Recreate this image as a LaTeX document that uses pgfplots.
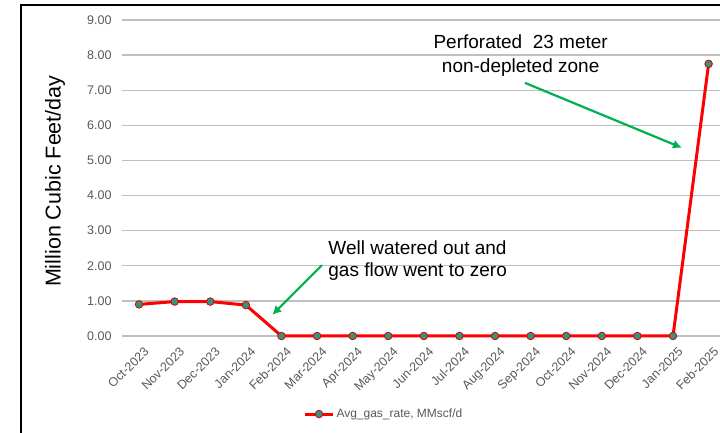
\documentclass[border=0pt]{standalone}
\usepackage{pgfplots}
\pgfplotsset{compat=1.18}
\usetikzlibrary{arrows.meta}
\usepackage{fontspec}
\setmainfont{Liberation Sans}
\definecolor{tickgray}{RGB}{89,89,89}
\definecolor{gridgray}{RGB}{191,191,191}
\definecolor{teal1}{RGB}{46,150,128}
\definecolor{arrowgreen}{RGB}{0,176,80}
\begin{document}
\begin{tikzpicture}[x=1pt,y=1pt]
\useasboundingbox (0,0) rectangle (720,433);
\fill[white] (0,0) rectangle (720,433);
\begin{axis}[
  at={(122pt,97pt)}, anchor=south west,
  scale only axis, width=598pt, height=316pt,
  xmin=-0.48, xmax=16.32, ymin=0, ymax=9,
  axis line style={draw=none},
  major tick style={draw=none},
  ymajorgrids, grid style={gridgray, line width=1.3pt},
  ytick={0,1,...,9},
  yticklabel style={/pgf/number format/fixed, /pgf/number format/fixed zerofill, /pgf/number format/precision=2, font=\fontsize{12.5}{14}\selectfont, color=tickgray, xshift=-7pt},
  /pgf/number format/assume math mode=true,
  xtick={0,...,16},
  xticklabels={Oct-2023,Nov-2023,Dec-2023,Jan-2024,Feb-2024,Mar-2024,Apr-2024,May-2024,Jun-2024,Jul-2024,Aug-2024,Sep-2024,Oct-2024,Nov-2024,Dec-2024,Jan-2025,Feb-2025},
  xticklabel style={rotate=45, anchor=north east, font=\fontsize{12.5}{14}\selectfont, color=tickgray, inner sep=1pt, xshift=-3pt, yshift=-9pt},
  ylabel={Million Cubic Feet/day},
  ylabel style={at={(axis description cs:-0.112,0.49)}, anchor=center, font=\fontsize{21.5}{24}\selectfont},
  legend style={at={(axis description cs:0.438,-0.247)}, anchor=center, draw=none, fill=none, font=\fontsize{12}{14}\selectfont, text=tickgray},
  legend image code/.code={\draw[mark repeat=2,mark phase=2,#1] plot coordinates {(0pt,0pt) (14pt,0pt) (28pt,0pt)};},
  clip=false,
]
\addplot[red, line width=3pt, mark=*, mark size=3.8pt, mark options={fill=teal1, draw=red!85!black, line width=0.8pt}]
  coordinates {(0,0.90) (1,0.98) (2,0.98) (3,0.88) (4,0) (5,0) (6,0) (7,0) (8,0) (9,0) (10,0) (11,0) (12,0) (13,0) (14,0) (15,0) (16,7.75)};
\addlegendentry{Avg\_gas\_rate, MMscf/d}
\node[align=center, font=\fontsize{19}{24}\selectfont] at (axis cs:10.72,7.98) {Perforated\ \ 23 meter\\non-depleted zone};
\node[align=left, anchor=west, font=\fontsize{19}{22}\selectfont] at (axis cs:5.22,2.15) {Well watered out and\\gas flow went to zero};
\draw[arrowgreen, line width=2.2pt, -{Latex[length=9pt,width=9pt]}] (axis cs:10.84,7.21) -- (axis cs:15.25,5.36);
\draw[arrowgreen, line width=2.2pt, -{Latex[length=9pt,width=9pt]}] (axis cs:5.14,2.02) -- (axis cs:3.74,0.60);
\end{axis}
\draw[black, line width=1.8pt] (21,0) -- (21,428) -- (720,428);
\end{tikzpicture}
\end{document}
